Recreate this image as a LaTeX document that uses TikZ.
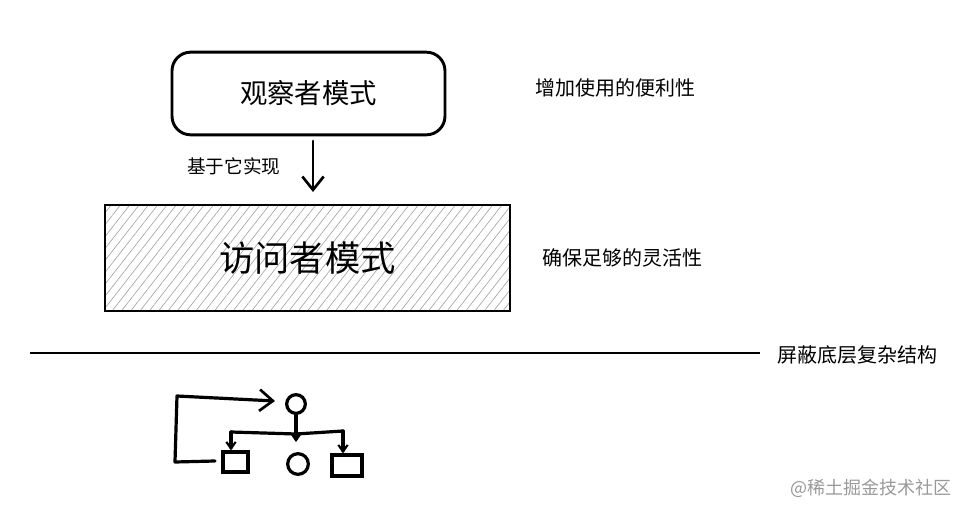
\documentclass[tikz,border=0pt]{standalone}
\usepackage{fontspec}
\setmainfont{Noto Sans CJK SC}
\usetikzlibrary{arrows.meta,patterns.meta}
\tikzset{
  box/.style={draw=black,line width=2.2pt,minimum width=204.75pt,minimum height=62pt,rounded corners=14pt,inner sep=0pt},
  hatchbox/.style={draw=black,line width=2pt,minimum width=303.75pt,minimum height=79.5pt,inner sep=0pt,
     pattern={Lines[angle=52,distance=5.5pt,line width=0.5pt]},pattern color=black!35},
  note/.style={font=\fontsize{15}{17}\selectfont,anchor=west,inner sep=0pt},
  conn/.style={line width=2.4pt,line cap=round,line join=round},
  tip/.style={-{Straight Barb[length=10pt,width=16pt,line width=2pt]}},
  small/.style={-{Straight Barb[length=5pt,width=7pt,line width=1.6pt]}},
  sk/.style={draw=black,line width=2.4pt,inner sep=0pt}
}
\begin{document}
\begin{tikzpicture}[x=0.75pt,y=-0.75pt]
\useasboundingbox (0,0) rectangle (968,514);
\node[box] (obs) at (308.5,93.5) {\fontsize{20.5}{24}\selectfont 观察者模式};
\node[hatchbox] (vis) at (307.5,258) {\fontsize{26.5}{30}\selectfont 访问者模式};
\coordinate (a1) at (313,141);
\coordinate (a2) at (313,192);
\draw[conn,line width=2pt,tip] (a1) -- (a2);
\node[note,font=\fontsize{14}{16}\selectfont] (lbl) at (187,166) {基于它实现};
\node[note] (n1) at (535,88) {增加使用的便利性};
\node[note] (n2) at (542,258) {确保足够的灵活性};
\node[note] (n3) at (777,355) {屏蔽底层复杂结构};
\coordinate (l1) at (30,353);
\coordinate (l2) at (760,353);
\draw[line width=1.8pt] (l1) -- (l2);
% bottom sketch
\node[sk,circle,minimum size=14pt] (c1) at (296,404) {};
\node[sk,minimum width=18.75pt,minimum height=15pt] (r1) at (235.5,462) {};
\node[sk,circle,minimum size=15.5pt] (c2) at (298,464) {};
\node[sk,minimum width=22.5pt,minimum height=15.75pt] (r3) at (347,465.5) {};
\coordinate (s1) at (215,461);
\coordinate (s2) at (175,462);
\coordinate (s3) at (177,396);
\coordinate (s4) at (275,401);
\draw[conn,tip] (s1) -- (s2) -- (s3) -- (s4);
\coordinate (j) at (296,434);
\coordinate (jl) at (231,432);
\coordinate (jr) at (343,431);
\coordinate (jm) at (296,442);
\draw[conn] (jl) -- (j) -- (jr);
\draw[conn,small] (c1) -- (jm);
\draw[conn,small] (jl) -- (r1.north -| jl);
\draw[conn,small] (jr) -- (r3.north -| jr);
\node[note,text=black!40,font=\fontsize{13.5}{16}\selectfont] (wm) at (790,488) {@稀土掘金技术社区};
\end{tikzpicture}
\end{document}
